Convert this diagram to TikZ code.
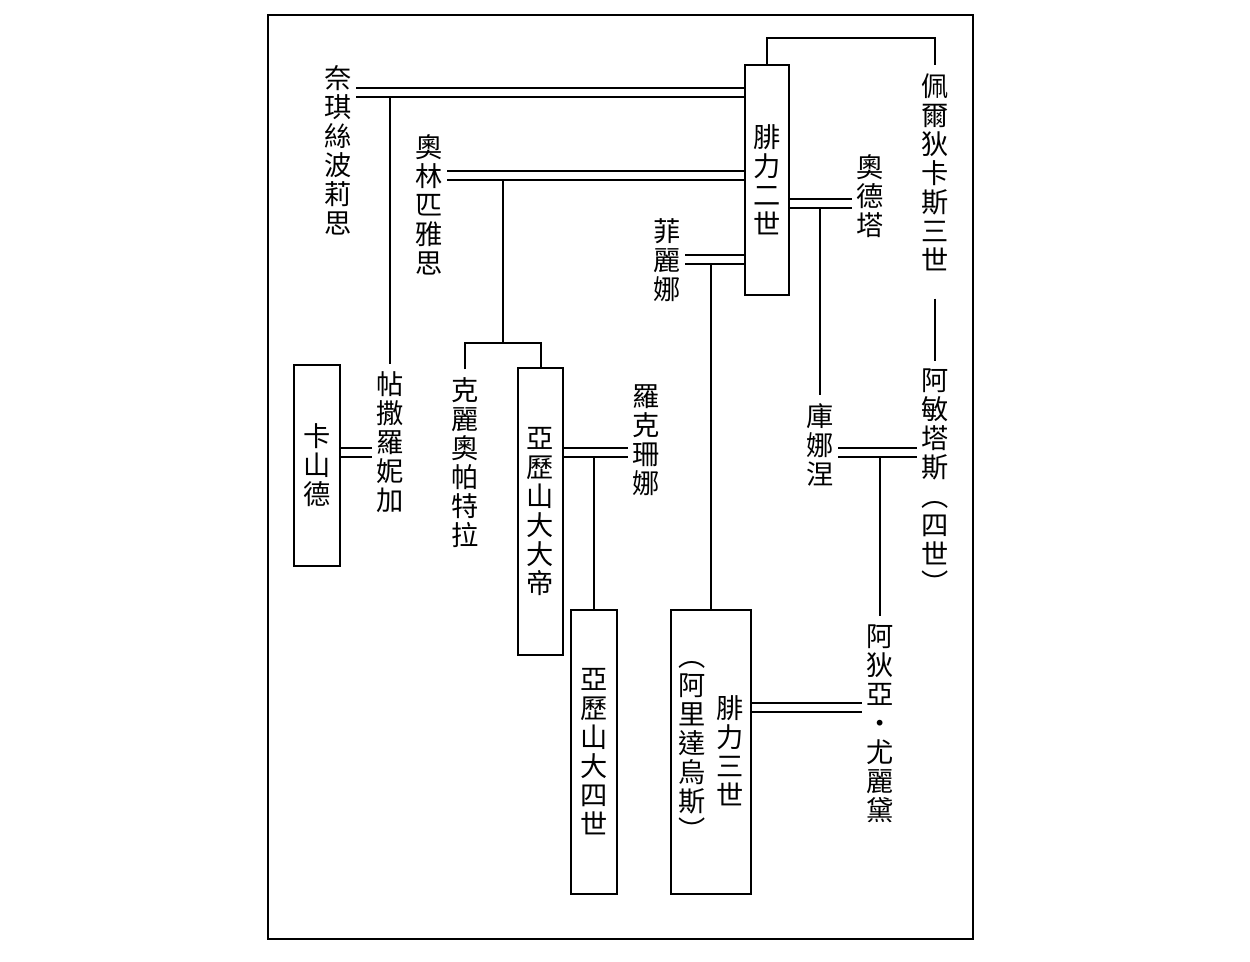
\documentclass[tikz,border=0pt]{standalone}
\usepackage{fontspec}
\setmainfont{Noto Sans CJK TC}

\begin{document}
\begin{tikzpicture}[
  x=0.02cm, y=-0.02cm, line width=0.04cm,
  person/.style={align=center, inner xsep=2pt, inner ysep=4pt,
                 font=\fontsize{15.5}{16.5}\selectfont},
  king/.style={person, draw, inner sep=0pt},
  wed/.style={double, double distance=0.14cm},
]
  \useasboundingbox (0,0) rectangle (1250,961);
  \draw (268,15) rectangle (973,939);

  % boxed kings
  \node[king, minimum width=0.88cm, minimum height=4.6cm] (philip2) at (767,180) {腓\\力\\二\\世};
  \node[king, minimum width=0.92cm, minimum height=4.02cm] (cassander) at (317,465.5) {卡\\山\\德};
  \node[king, minimum width=0.9cm, minimum height=5.74cm] (alexander3) at (540.5,511.5) {亞\\歷\\山\\大\\大\\帝};
  \node[king, minimum width=0.92cm, minimum height=5.68cm] (alexander4) at (594,752) {亞\\歷\\山\\大\\四\\世};
  \node[king, minimum width=1.6cm, minimum height=5.68cm] (philip3) at (711,752) {};
  \node[person] (philip3name) at (730,751) {腓\\力\\三\\世};
  \node[person] (arrhidaeus) at (692,751) {︵\\阿\\里\\達\\烏\\斯\\︶};

  % others
  \node[person] (nicesipolis) at (338,150) {奈\\琪\\絲\\波\\莉\\思};
  \node[person] (olympias) at (429,204.5) {奧\\林\\匹\\雅\\思};
  \node[person] (philinna) at (667,260) {菲\\麗\\娜};
  \node[person] (audata) at (870,196.5) {奧\\德\\塔};
  \node[person] (perdiccas3) at (935,172) {佩\\爾\\狄\\卡\\斯\\三\\世};
  \node[person] (amyntas4) at (935,481) {阿\\敏\\塔\\斯\\︵\\四\\世\\︶};
  \node[person] (cynane) at (820,444.5) {庫\\娜\\涅};
  \node[person] (thessalonike) at (390,442.5) {帖\\撒\\羅\\妮\\加};
  \node[person] (cleopatra) at (465,462.5) {克\\麗\\奧\\帕\\特\\拉};
  \node[person] (roxana) at (646,440) {羅\\克\\珊\\娜};
  \node[person] (eurydice) at (880,723.5) {阿\\狄\\亞\\・\\尤\\麗\\黛};

  % marriages
  \foreach \a/\b/\y in {nicesipolis/philip2/92.5, olympias/philip2/175, philinna/philip2/259,
                        philip2/audata/203, cassander/thessalonike/452, alexander3/roxana/452,
                        cynane/amyntas4/452.5, philip3/eurydice/707.5}
    \draw[wed] (\a.east |- 0,\y) -- (\b.west |- 0,\y);

  % children
  \draw (thessalonike.north |- 0,97) -- (thessalonike.north);
  \coordinate (kids) at (503,343);
  \draw (kids |- 0,179) -- (kids);
  \draw (cleopatra.north) |- (kids) -| (alexander3.north);
  \draw (philip3.north |- 0,263) -- (philip3.north);
  \draw (cynane.north |- 0,207) -- (cynane.north);
  \draw (alexander4.north |- 0,456) -- (alexander4.north);
  \draw (eurydice.north |- 0,457) -- (eurydice.north);
  \draw (philip2.north) |- (perdiccas3.north |- 0,38) -- (perdiccas3.north);
  \draw[shorten <=0.4cm] (perdiccas3.south) -- (amyntas4.north);
\end{tikzpicture}
\end{document}
